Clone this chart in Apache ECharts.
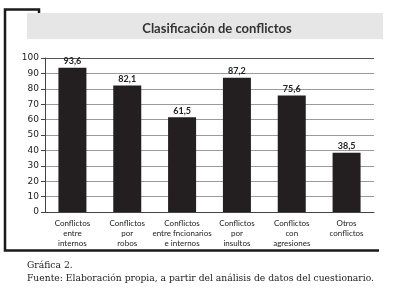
<!DOCTYPE html>
<html>
<head>
<meta charset="utf-8">
<script src="https://cdn.jsdelivr.net/npm/echarts@6/dist/echarts.min.js"></script>
<style>
  html, body { margin: 0; padding: 0; background: #fff; }
  #chart { width: 394px; height: 292px; }
</style>
</head>
<body>
<div id="chart"></div>
<script>
const categories = [
  'Conflictos\nentre\ninternos',
  'Conflictos\npor\nrobos',
  'Conflictos\nentre fncionarios\ne internos',
  'Conflictos\npor\ninsultos',
  'Conflictos\ncon\nagresiones',
  'Otros\nconflictos'
]
const values = [93.6, 82.1, 61.5, 87.2, 75.6, 38.5]
const titleText = 'Clasificación de conflictos'
const captionText = 'Gráfica 2.'
const sourceText = 'Fuente: Elaboración propia, a partir del análisis de datos del cuestionario.'

const chart = echarts.init(document.getElementById('chart'))

// the top gridline (100) is drawn darker, like a frame
const gridColors = ['#9a9a9a', '#9a9a9a', '#9a9a9a', '#9a9a9a', '#9a9a9a', '#9a9a9a',
  '#9a9a9a', '#9a9a9a', '#9a9a9a', '#9a9a9a', '#555']

const option = {
  animation: false,
  backgroundColor: '#fff',
  graphic: [
    // gray title band
    { type: 'rect', z: 0, shape: { x: 27, y: 13, width: 356, height: 26 }, style: { fill: '#e6e6e6' } },
    // frame around the chart
    { type: 'polyline', z: 1, shape: { points: [[39, 13], [39, 9.5], [5, 9.5], [5, 250.5], [379, 250.5]] },
      style: { stroke: '#1a1a1a', lineWidth: 2.5, fill: null } },
    { type: 'text', left: 27, top: 261, style: { text: captionText, font: '9.2px "DejaVu Serif"', fill: '#222' } },
    { type: 'text', left: 27, top: 274, style: { text: sourceText, font: '9.2px "DejaVu Serif"', fill: '#222' } }
  ],
  title: {
    text: titleText,
    left: 212,
    top: 17,
    textAlign: 'center',
    textStyle: { fontFamily: 'Lato', fontSize: 13, fontWeight: 'bold', color: '#333' }
  },
  grid: { left: 45, right: 20, top: 58, bottom: 80 },
  xAxis: {
    type: 'category',
    data: categories,
    axisLine: { lineStyle: { color: '#444', width: 1 } },
    axisTick: { show: false },
    axisLabel: {
      interval: 0,
      margin: 6,
      fontFamily: 'Lato',
      fontSize: 8,
      lineHeight: 10,
      color: '#222'
    }
  },
  yAxis: {
    type: 'value',
    min: 0,
    max: 100,
    interval: 10,
    axisLine: { show: true, lineStyle: { color: '#444', width: 1 } },
    axisTick: { show: true, inside: false, length: 4, lineStyle: { color: '#444' } },
    axisLabel: { fontFamily: 'DejaVu Sans', fontSize: 9, color: '#222', margin: 6 },
    splitLine: { lineStyle: { color: gridColors, width: 1 } }
  },
  series: [{
    type: 'bar',
    data: values,
    barWidth: 28,
    itemStyle: { color: '#231f20' },
    label: {
      show: true,
      position: 'top',
      distance: 2,
      fontFamily: 'Lato',
      fontSize: 9,
      fontWeight: 'bold',
      color: '#222',
      formatter: p => String(p.value).replace('.', ',')
    }
  }]
}

chart.setOption(option)
</script>
</body>
</html>
